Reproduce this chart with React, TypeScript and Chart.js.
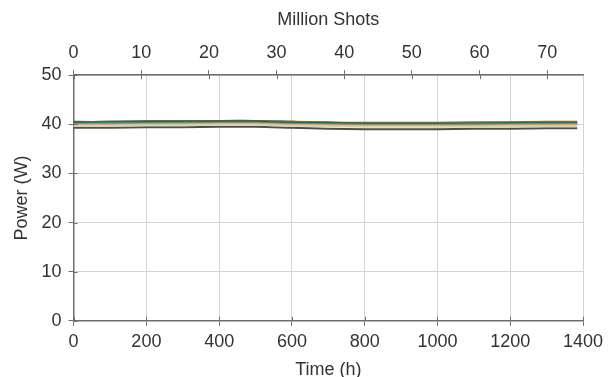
import React, { useEffect, useRef } from "react";
import { Chart, registerables } from "chart.js";

Chart.register(...registerables);

// Sampling times (h)
const timeHours = [0, 100, 200, 300, 400, 500, 600, 700, 800, 900, 1000, 1100, 1200, 1300, 1384];

// Output power per emitter (W)
const powerNavy = [40.5, 40.5, 40.6, 40.6, 40.7, 40.7, 40.5, 40.3, 40.2, 40.2, 40.2, 40.2, 40.3, 40.3, 40.3];
const powerOlive = [40.4, 40.5, 40.5, 40.6, 40.6, 40.6, 40.5, 40.4, 40.3, 40.3, 40.3, 40.4, 40.4, 40.5, 40.5];
const powerGreen = [40.3, 40.4, 40.4, 40.5, 40.5, 40.5, 40.3, 40.2, 40.1, 40.1, 40.1, 40.1, 40.2, 40.2, 40.2];
const powerTeal = [40.1, 40.2, 40.2, 40.3, 40.3, 40.3, 40.1, 40.0, 39.9, 39.9, 39.9, 40.0, 40.0, 40.1, 40.1];
const powerOrange = [39.9, 39.9, 40.0, 40.0, 40.1, 40.1, 39.9, 39.8, 39.7, 39.7, 39.7, 39.7, 39.8, 39.8, 39.9];
const powerBeige = [39.7, 39.7, 39.8, 39.8, 39.9, 39.9, 39.7, 39.6, 39.5, 39.5, 39.5, 39.5, 39.6, 39.6, 39.6];
const powerGray = [39.3, 39.3, 39.4, 39.4, 39.5, 39.5, 39.3, 39.1, 39.0, 39.0, 39.0, 39.1, 39.1, 39.2, 39.2];

// Axis ranges, ticks and labels
const timeMax = 1400;
const shotsMax = 75.3;
const shotsTicks = [0, 10, 20, 30, 40, 50, 60, 70];
const powerMax = 50;
const xTitle = "Time (h)";
const x2Title = "Million Shots";
const yTitle = "Power (W)";

const seriesList = [
  { values: powerBeige, color: "#dccfae" },
  { values: powerOrange, color: "#ec9f62" },
  { values: powerGray, color: "#4d4f4f" },
  { values: powerTeal, color: "#3d9c8c" },
  { values: powerGreen, color: "#2f5f4c" },
  { values: powerOlive, color: "#7d702c" },
  { values: powerNavy, color: "#1c3553" },
];

const axisColor = "#6e6e6e";

// Short tick marks pointing into the plot, so ticks cross each axis line
const innerTicks = {
  id: "innerTicks",
  afterDatasetsDraw(chart: any) {
    const { ctx, chartArea, scales } = chart;
    const len = 4;
    ctx.save();
    ctx.strokeStyle = axisColor;
    ctx.lineWidth = 1;
    ctx.beginPath();
    for (const t of scales.x.ticks) {
      const px = Math.round(scales.x.getPixelForValue(t.value)) + 0.5;
      ctx.moveTo(px, chartArea.bottom);
      ctx.lineTo(px, chartArea.bottom - len);
    }
    for (const t of scales.x2.ticks) {
      const px = Math.round(scales.x2.getPixelForValue(t.value)) + 0.5;
      ctx.moveTo(px, chartArea.top);
      ctx.lineTo(px, chartArea.top + len);
    }
    for (const t of scales.y.ticks) {
      const py = Math.round(scales.y.getPixelForValue(t.value)) + 0.5;
      ctx.moveTo(chartArea.left, py);
      ctx.lineTo(chartArea.left + len, py);
    }
    ctx.stroke();
    ctx.restore();
  },
};

export default function App() {
  const canvasRef = useRef<HTMLCanvasElement | null>(null);

  useEffect(() => {
    if (!canvasRef.current) return;
    const font = { family: "'Liberation Sans', Arial, sans-serif", size: 18 };
    const textColor = "#333";
    const gridColor = "#d4d4d4";
    const plain = (v: any) => String(v);
    const chart = new Chart(canvasRef.current, {
      type: "line",
      data: {
        datasets: seriesList.map((s) => ({
          data: timeHours.map((t, i) => ({ x: t, y: s.values[i] })),
          borderColor: s.color,
          borderWidth: 2,
          pointRadius: 0,
          tension: 0.3,
          fill: false,
        })),
      },
      options: {
        animation: false,
        responsive: false,
        plugins: { legend: { display: false }, tooltip: { enabled: false } },
        layout: { padding: { left: 9, right: 30, top: 5, bottom: -4 } },
        scales: {
          x: {
            type: "linear",
            position: "bottom",
            min: 0,
            max: timeMax,
            ticks: { stepSize: 200, color: textColor, font, padding: 5, callback: plain },
            grid: { color: gridColor, tickColor: axisColor, tickLength: 5 },
            border: { color: axisColor, width: 1.5 },
            title: { display: true, text: xTitle, color: textColor, font, padding: { top: 2, bottom: 0 } },
          },
          x2: {
            type: "linear",
            position: "top",
            min: 0,
            max: shotsMax,
            afterBuildTicks: (axis: any) => {
              axis.ticks = shotsTicks.map((v) => ({ value: v }));
            },
            ticks: { color: textColor, font, padding: 6, callback: plain },
            grid: { drawOnChartArea: false, tickColor: axisColor, tickLength: 5 },
            border: { color: axisColor, width: 1.5 },
            title: { display: true, text: x2Title, color: textColor, font, padding: { bottom: 6 } },
          },
          y: {
            min: 0,
            max: powerMax,
            ticks: { stepSize: 10, color: textColor, font, padding: 7, callback: plain },
            grid: { color: gridColor, tickColor: axisColor, tickLength: 5 },
            border: { color: axisColor, width: 1.5 },
            title: { display: true, text: yTitle, color: textColor, font, padding: { top: 2, bottom: 2 } },
          },
        },
      },
      plugins: [innerTicks],
    });
    return () => chart.destroy();
  }, []);

  return (
    <div style={{ position: "absolute", left: 0, top: 0, width: 613, height: 377, background: "#fff" }}>
      <canvas ref={canvasRef} width={613} height={377} />
    </div>
  );
}
